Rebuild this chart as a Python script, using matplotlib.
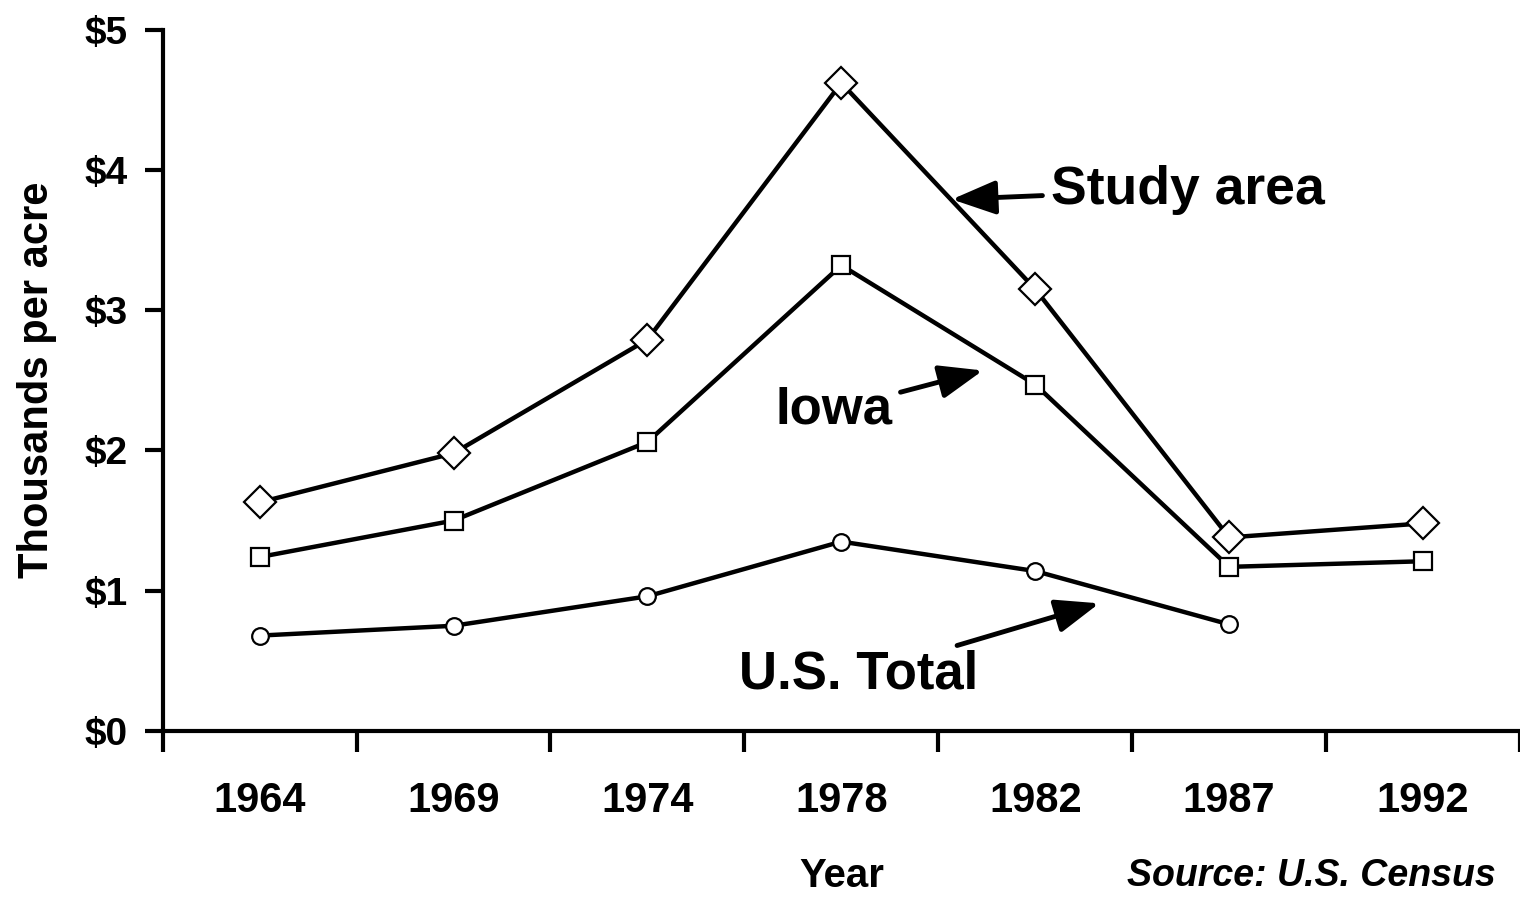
import matplotlib.pyplot as plt
from matplotlib.ticker import FixedLocator

plt.rcParams['font.family'] = ['Liberation Sans', 'DejaVu Sans']
plt.rcParams['font.weight'] = 'bold'

years = ['1964', '1969', '1974', '1978', '1982', '1987', '1992']
study_area = [1.63, 1.98, 2.79, 4.62, 3.15, 1.38, 1.48]
iowa = [1.24, 1.50, 2.06, 3.32, 2.47, 1.17, 1.21]
us_total = [0.68, 0.75, 0.96, 1.35, 1.14, 0.76]
y_ticks = [0, 1, 2, 3, 4, 5]

fig = plt.figure(figsize=(15.2, 8.98), dpi=100)
ax = fig.add_axes([0.107, 0.186, 0.893, 0.781])

x = list(range(len(years)))
line_kw = dict(color='black', lw=3.2, mfc='white', mec='black', mew=1.6, clip_on=False)
ax.plot(x, study_area, marker='D', ms=16, **line_kw)
ax.plot(x, iowa, marker='s', ms=13, **line_kw)
ax.plot(x[:len(us_total)], us_total, marker='o', ms=12, **line_kw)

ax.set_xlim(-0.5, 6.5)
ax.set_ylim(0, 5)

ax.set_xticks(x)
ax.set_xticklabels(years, fontsize=30, fontweight='bold')
ax.xaxis.set_minor_locator(FixedLocator([i - 0.5 for i in range(len(years) + 1)]))
ax.tick_params(axis='x', which='major', length=0, pad=36)
ax.tick_params(axis='x', which='minor', length=15, width=3, direction='out')

ax.set_yticks(y_ticks)
ax.set_yticklabels(['$%d' % v for v in y_ticks], fontsize=28, fontweight='bold')
ax.tick_params(axis='y', length=13, width=3, pad=12)

for s in ['top', 'right']:
    ax.spines[s].set_visible(False)
for s in ['left', 'bottom']:
    ax.spines[s].set_linewidth(3)

ax.set_ylabel('Thousands per acre', fontsize=30, fontweight='bold', labelpad=20)
ax.set_xlabel('Year', fontsize=29, fontweight='bold', labelpad=26)

arrow = dict(arrowstyle='-|>,head_length=0.7,head_width=0.27', color='black', lw=3.5,
             shrinkA=4, shrinkB=0)
ax.annotate('Study area', xy=(3.57, 3.79), xytext=(4.08, 3.86), fontsize=38.5,
            fontweight='bold', va='center', ha='left',
            arrowprops=arrow)
ax.annotate('Iowa', xy=(3.73, 2.57), xytext=(2.66, 2.29), fontsize=38,
            fontweight='bold', va='center', ha='left',
            arrowprops=arrow)
ax.annotate('U.S. Total', xy=(4.33, 0.91), xytext=(2.47, 0.40), fontsize=38,
            fontweight='bold', va='center', ha='left',
            arrowprops=arrow)

fig.text(0.984, 0.004, 'Source: U.S. Census', fontsize=27, fontweight='bold',
         style='italic', ha='right', va='bottom')

fig.savefig('out.png', dpi=100)
